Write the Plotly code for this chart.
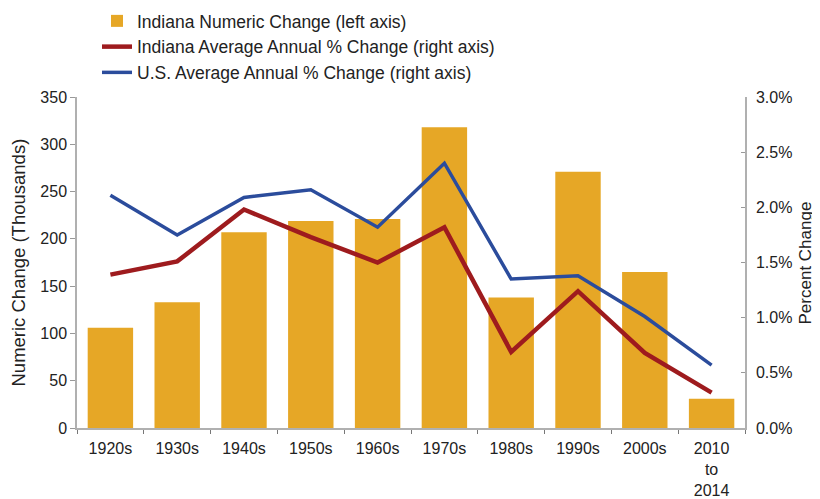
import plotly.graph_objects as go

categories = ["1920s", "1930s", "1940s", "1950s", "1960s", "1970s", "1980s", "1990s", "2000s", "2010<br>to<br>2014"]
indiana_numeric = [106, 133, 207, 219, 221, 318, 138, 271, 165, 31]
indiana_pct = [1.39, 1.51, 1.98, 1.73, 1.50, 1.82, 0.69, 1.24, 0.68, 0.32]
us_pct = [2.11, 1.75, 2.09, 2.16, 1.82, 2.40, 1.35, 1.38, 1.01, 0.57]
left_ticks = [0, 50, 100, 150, 200, 250, 300, 350]
right_ticks = [0, 0.5, 1.0, 1.5, 2.0, 2.5, 3.0]
right_ticktext = ["0.0%", "0.5%", "1.0%", "1.5%", "2.0%", "2.5%", "3.0%"]

FONT = "Liberation Sans, Arial, Helvetica, sans-serif"
TXT = "#222222"
AX = "#b0b0b0"

fig = go.Figure()
fig.add_trace(go.Bar(x=categories, y=indiana_numeric, name="Indiana Numeric Change (left axis)",
                     marker=dict(color="#E6A726", line=dict(width=0)), yaxis="y"))
fig.add_trace(go.Scatter(x=categories, y=indiana_pct, name="Indiana Average Annual % Change (right axis)",
                         mode="lines", line=dict(color="#9E1B1E", width=4.5), yaxis="y2"))
fig.add_trace(go.Scatter(x=categories, y=us_pct, name="U.S. Average Annual % Change (right axis)",
                         mode="lines", line=dict(color="#2B4C9C", width=3.5), yaxis="y2"))

fig.update_layout(
    width=812, height=491,
    margin=dict(l=69, r=75, t=89, b=71, autoexpand=False),
    paper_bgcolor="white", plot_bgcolor="white",
    font=dict(family=FONT, size=16, color=TXT),
    bargap=0.32,
    showlegend=True,
    legend=dict(x=0.1096, y=1.284, xref="container", yref="paper", xanchor="left", yanchor="top",
                font=dict(size=17.5, color=TXT), bgcolor="rgba(0,0,0,0)", tracegroupgap=0,
                itemwidth=30, traceorder="normal"),
    xaxis=dict(type="category", showline=True, linecolor=AX, linewidth=1.5, ticks="outside",
               tickson="boundaries", ticklen=4, tickcolor="#777", showgrid=False, automargin=False,
               ticklabelstandoff=5, tickfont=dict(size=16, color=TXT)),
    yaxis=dict(range=[0, 350], tickvals=left_ticks, showline=True, linecolor=AX, linewidth=1.5,
               ticks="outside", ticklen=5, tickcolor="#999", showgrid=False, zeroline=False,
               automargin=False, tickfont=dict(size=16, color=TXT)),
    yaxis2=dict(range=[0, 3.0], tickvals=right_ticks, ticktext=right_ticktext, overlaying="y",
                side="right", showline=True, linecolor=AX, linewidth=1.5, ticks="inside", ticklen=4,
                tickcolor="#999", showgrid=False, zeroline=False, automargin=False,
                ticklabelstandoff=6, tickfont=dict(size=16, color=TXT)),
    annotations=[
        dict(text="Numeric Change (Thousands)", xref="paper", yref="paper", x=-0.0883, y=0.5,
             textangle=-90, showarrow=False, font=dict(size=18.5, color=TXT), xanchor="center", yanchor="middle"),
        dict(text="Percent Change", xref="paper", yref="paper", x=1.0913, y=0.5,
             textangle=-90, showarrow=False, font=dict(size=17, color=TXT), xanchor="center", yanchor="middle"),
    ],
)

fig.write_html("out.html")
